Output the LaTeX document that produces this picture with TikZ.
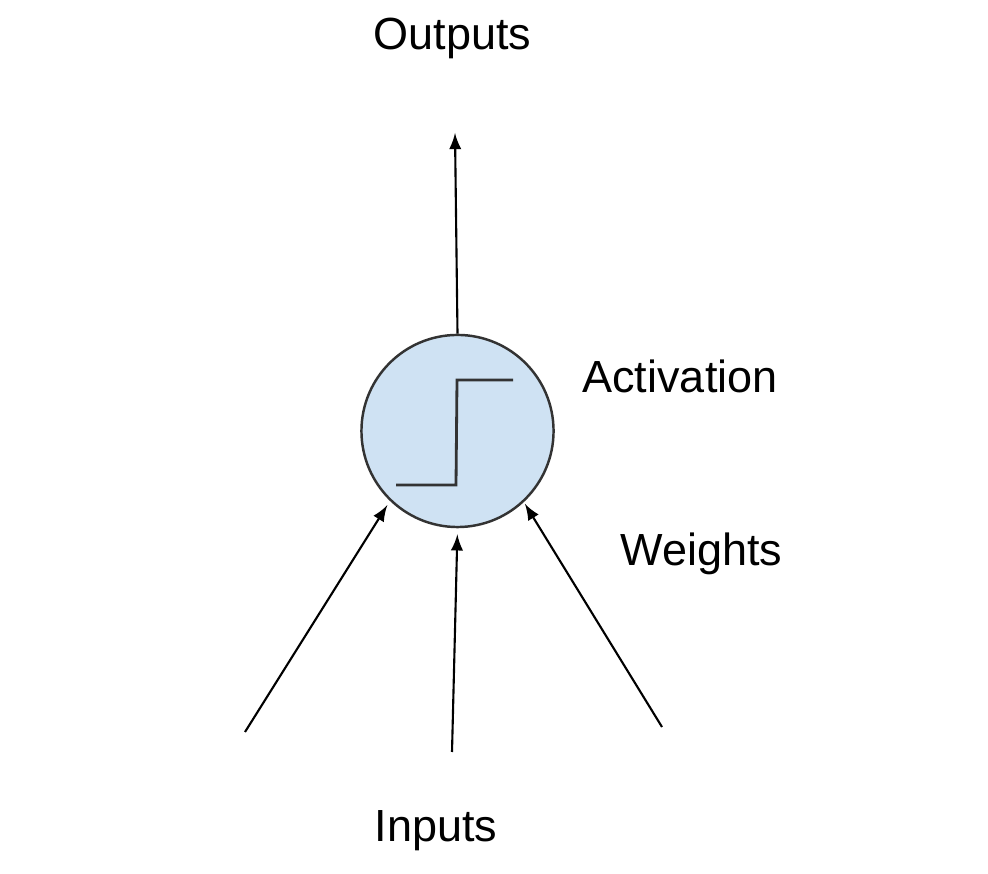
\documentclass[tikz,border=0pt]{standalone}
\usepackage{xcolor}
\usepackage{fontspec}
\setmainfont{Liberation Sans}
\usepackage{tikz}
\usetikzlibrary{arrows, positioning}

\definecolor{cellblue}{HTML}{CFE2F3}
\definecolor{edgegray}{HTML}{333333}

\begin{document}
\begin{tikzpicture}[
    x=0.01cm, y=-0.01cm,
    neuron/.style={circle, draw=edgegray, fill=cellblue, line width=0.7pt, minimum size=1.92cm, inner sep=0pt},
    label/.style={anchor=base, inner sep=0pt, font=\fontsize{12.8}{15}\selectfont},
    arrow/.style={-latex, line width=0.6pt}
]
\useasboundingbox (0,0) rectangle (988,874);

\node[neuron] (cell) at (457.5,431) {};
\node[label] (outputs) at (452.5,50) {Outputs};
\node[label] (activation) at (680,393) {Activation};
\node[label] (weights) at (701.5,566) {Weights};
\node[label] (inputs) at (436,842) {Inputs};

\coordinate (out) at (455,133);
\coordinate (inA) at (245,732);
\coordinate (inB) at (452,752);
\coordinate (inC) at (662,727);

% step function inside the cell
\draw[line width=0.8pt, edgegray] (396,485) -- (456,485) -- (457,380) -- (513,380);

\draw[arrow] (cell.north) -- (out);
\draw[arrow, shorten >=0.05cm] (inA) -- (cell.226);
\draw[arrow, shorten >=0.06cm] (inB) -- (cell.270);
\draw[arrow, shorten >=0.02cm] (inC) -- (cell.313);
\end{tikzpicture}
\end{document}
